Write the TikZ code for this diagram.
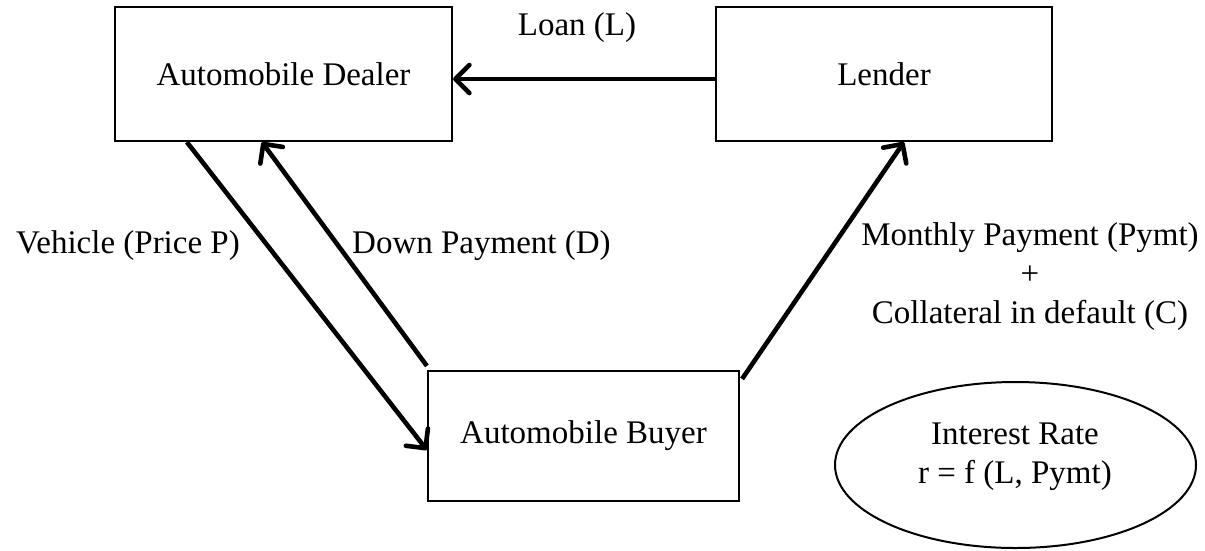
\documentclass[tikz,border=0pt]{standalone}
\usepackage{fontspec}
\setmainfont{Liberation Serif}
\usetikzlibrary{arrows.meta,shapes.geometric}
\tikzset{
  box/.style={draw=black, line width=2.2pt, rectangle, inner sep=0pt, font=\fontsize{33}{39}\selectfont},
  flow/.style={line width=4.6pt, -{Straight Barb[length=14pt,width=28pt,round,line width=4.6pt]}},
  lbl/.style={inner sep=0pt, font=\fontsize{33}{39}\selectfont, align=center},
}
\begin{document}
\begin{tikzpicture}[x=1pt,y=1pt]
\useasboundingbox[fill=white] (0,0) rectangle (1205,-550);
\node[box, minimum width=337pt, minimum height=134pt] (dealer) at (283.5,-74) {Automobile Dealer};
\node[box, minimum width=336pt, minimum height=134pt] (lender) at (884,-74) {Lender};
\node[box, minimum width=311pt, minimum height=130pt] (buyer) at (583.5,-436) {Automobile Buyer};
\node[draw=black, line width=2pt, ellipse, minimum width=361pt, minimum height=166pt, inner sep=0pt] (rate) at (1015.5,-465) {};
\node[lbl, anchor=north] (ratetext) at (1015,-423) {Interest Rate\\r = f (L, Pymt)};
\node[lbl, anchor=base] (loanlbl) at (577,-35) {Loan (L)};
\node[lbl, anchor=base] (vehlbl) at (128,-253) {Vehicle (Price P)};
\node[lbl, anchor=base west] (downlbl) at (352,-253) {Down Payment (D)};
\node[lbl, anchor=north] (paylbl) at (1030,-222.5) {Monthly Payment (Pymt)\\+\\Collateral in default (C)};
\draw[flow] ([yshift=-5pt]lender.west) -- ([yshift=-5pt]dealer.east);
\draw[flow] ([xshift=73pt]dealer.south west) -- ([yshift=-14pt]buyer.west);
\draw[flow] ([yshift=4pt]buyer.north west) -- ([xshift=148pt]dealer.south west);
\draw[flow] ([xshift=2pt,yshift=-9pt]buyer.north east) -- ([xshift=189pt]lender.south west);
\end{tikzpicture}
\end{document}
